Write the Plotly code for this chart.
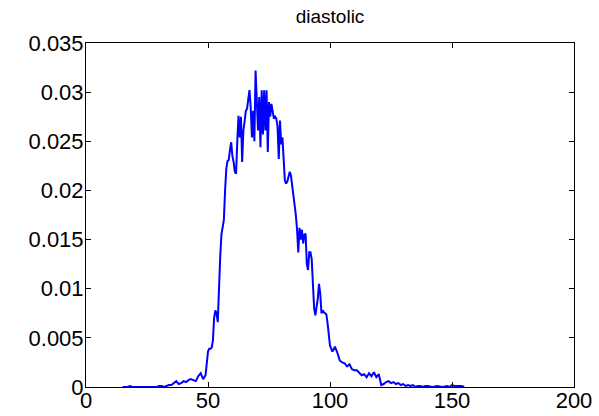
import plotly.graph_objects as go

# x values (diastolic pressure) and density values
x_vals = [15, 16, 17, 18, 19, 20, 22, 24, 26, 28, 29, 30, 31, 32, 33, 34, 35, 36, 37, 38, 39,
          40, 41, 42, 43, 44, 45, 46, 47, 48, 49,
          50.0, 50.5, 51.0, 51.5, 52.0, 52.5, 53.0, 53.5, 54.0, 54.5,
          55.0, 55.5, 56.0, 56.5, 57.0, 57.5, 58.0, 58.5, 59.0, 59.5,
          60.0, 60.5, 61.0, 61.5, 62.0, 62.5, 63.0, 63.5, 64.0, 64.5,
          65.0, 65.5, 66.0, 66.5, 67.0, 67.5, 68.0, 68.5, 69.0, 69.5,
          70.0, 70.5, 71.0, 71.5, 72.0, 72.5, 73.0, 73.5, 74.0, 74.5,
          75.0, 75.5, 76.0, 76.5, 77.0, 77.5, 78.0, 78.5, 79.0, 79.5,
          80.0, 80.5, 81.0, 81.5, 82.0, 82.5, 83.0, 83.5, 84.0, 84.5,
          85.0, 85.5, 86.0, 86.5, 87.0, 87.5, 88.0, 88.5, 89.0, 89.5,
          90.0, 90.5, 91.0, 91.5, 92.0, 92.5, 93.0, 93.5, 94.0, 94.5,
          95.0, 95.5, 96.0, 96.5, 97.0, 97.5, 98.0, 98.5, 99.0, 99.5,
          100, 101, 102, 103, 104, 105, 106, 107, 108, 109,
          110, 111, 112, 113, 114, 115, 116, 117, 118, 119,
          120, 121, 122, 123, 124, 125, 126, 127, 128, 129,
          130, 131, 132, 133, 134, 135, 136, 137, 138, 139,
          140, 142, 144, 146, 148, 149, 150, 151, 152, 153, 154, 155]

density = [0, 0, 0, 0.0001, 0, 0, 0, 0, 0, 0, 0, 0.0001, 0.0001, 0, 0.0001, 0.0002, 0.0002, 0.0004, 0.0006, 0.0003, 0.0004,
           0.0006, 0.0005, 0.0007, 0.0008, 0.0007, 0.0006, 0.0011, 0.0014, 0.0008, 0.0012,
           0.0036, 0.0039, 0.0039, 0.0040, 0.0047, 0.0070, 0.0078, 0.0075, 0.0066, 0.0108,
           0.0132, 0.0155, 0.0162, 0.0170, 0.0200, 0.0222, 0.0230, 0.0231, 0.0241, 0.0249,
           0.0235, 0.0229, 0.0219, 0.0217, 0.0250, 0.0276, 0.0254, 0.0275, 0.0229, 0.0261,
           0.0270, 0.0281, 0.0283, 0.0292, 0.0302, 0.0285, 0.0254, 0.0281, 0.0250, 0.0322,
           0.0295, 0.0261, 0.0295, 0.0244, 0.0302, 0.0257, 0.0302, 0.0261, 0.0302, 0.0239,
           0.0290, 0.0275, 0.0288, 0.0278, 0.0273, 0.0275, 0.0273, 0.0265, 0.0232, 0.0271,
           0.0247, 0.0254, 0.0231, 0.0210, 0.0207, 0.0209, 0.0214, 0.0219, 0.0215, 0.0205,
           0.0197, 0.0190, 0.0175, 0.0160, 0.0137, 0.0162, 0.0150, 0.0160, 0.0146, 0.0155,
           0.0156, 0.0125, 0.0119, 0.0137, 0.0137, 0.0130, 0.0110, 0.0080, 0.0073, 0.0081,
           0.0090, 0.0105, 0.0095, 0.0075, 0.0078, 0.0076, 0.0075, 0.0074, 0.0065, 0.0050,
           0.0042, 0.0036, 0.0041, 0.0035, 0.0027, 0.0025, 0.0024, 0.0021, 0.0023, 0.0018,
           0.0017, 0.0017, 0.0014, 0.0012, 0.0013, 0.0010, 0.0014, 0.0011, 0.0015, 0.0010,
           0.0013, 0.0002, 0.0003, 0.0005, 0.0006, 0.0004, 0.0005, 0.0003, 0.0004, 0.0002,
           0.0003, 0.0001, 0.0002, 0.0001, 0.0002, 0, 0.0001, 0.0001, 0, 0.0001,
           0.0001, 0, 0.0001, 0, 0.0001, 0, 0.0002, 0.0001, 0.0001, 0.0001, 0.0001, 0]

x_ticks = [0, 50, 100, 150, 200]
y_ticks = [0, 0.005, 0.01, 0.015, 0.02, 0.025, 0.03, 0.035]
y_tick_labels = ["0", "0.005", "0.01", "0.015", "0.02", "0.025", "0.03", "0.035"]
title_text = "diastolic"

fig = go.Figure()
fig.add_trace(go.Scatter(x=x_vals, y=density, mode="lines",
                         line=dict(color="#0000ff", width=2), showlegend=False))

axis_common = dict(showline=True, linecolor="black", linewidth=1, mirror="ticks",
                   ticks="inside", ticklen=5, tickcolor="black", showgrid=False,
                   zeroline=False, automargin=False,
                   tickfont=dict(family="Liberation Sans, Arial", size=22, color="black"))

fig.update_layout(
    template="none",
    width=599, height=416,
    margin=dict(l=86, r=25, t=43, b=29, autoexpand=False),
    paper_bgcolor="white", plot_bgcolor="white",
    title=dict(text=title_text, x=0.551, xanchor="center", y=1 - 16 / 416, yanchor="middle",
               yref="container", font=dict(family="Liberation Sans, Arial", size=19, color="black")),
    xaxis=dict(range=[0, 200], tickvals=x_ticks, ticklabelstandoff=-6, **axis_common),
    yaxis=dict(range=[0, 0.035], tickvals=y_ticks, ticktext=y_tick_labels, ticklabelstandoff=-3, **axis_common),
)

fig.write_html("out.html", config={"displayModeBar": False},
               post_script="document.body.style.margin='0px';document.body.style.overflow='hidden';")
